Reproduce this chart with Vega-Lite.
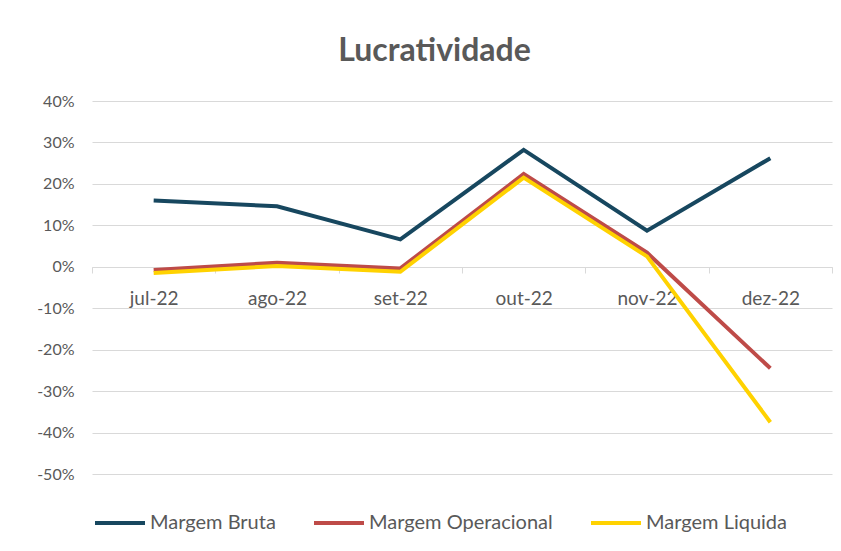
{
  "$schema": "https://vega.github.io/schema/vega-lite/v6.json",
  "autosize": {"type": "none"},
  "width": 740,
  "height": 373,
  "padding": {"left": 92, "top": 101, "right": 9, "bottom": 77},
  "background": "white",
  "title": {
    "text": "Lucratividade",
    "anchor": "middle",
    "frame": "bounds",
    "offset": 25,
    "fontSize": 32,
    "font": "Lato",
    "fontWeight": "bold",
    "color": "#595959"
  },
  "data": {
    "values": [
      {"mes": "jul-22", "serie": "Margem Bruta", "valor": 0.160},
      {"mes": "ago-22", "serie": "Margem Bruta", "valor": 0.146},
      {"mes": "set-22", "serie": "Margem Bruta", "valor": 0.066},
      {"mes": "out-22", "serie": "Margem Bruta", "valor": 0.282},
      {"mes": "nov-22", "serie": "Margem Bruta", "valor": 0.087},
      {"mes": "dez-22", "serie": "Margem Bruta", "valor": 0.262},
      {"mes": "jul-22", "serie": "Margem Operacional", "valor": -0.008},
      {"mes": "ago-22", "serie": "Margem Operacional", "valor": 0.010},
      {"mes": "set-22", "serie": "Margem Operacional", "valor": -0.004},
      {"mes": "out-22", "serie": "Margem Operacional", "valor": 0.224},
      {"mes": "nov-22", "serie": "Margem Operacional", "valor": 0.034},
      {"mes": "dez-22", "serie": "Margem Operacional", "valor": -0.245},
      {"mes": "jul-22", "serie": "Margem Liquida", "valor": -0.015},
      {"mes": "ago-22", "serie": "Margem Liquida", "valor": 0.002},
      {"mes": "set-22", "serie": "Margem Liquida", "valor": -0.012},
      {"mes": "out-22", "serie": "Margem Liquida", "valor": 0.215},
      {"mes": "nov-22", "serie": "Margem Liquida", "valor": 0.025},
      {"mes": "dez-22", "serie": "Margem Liquida", "valor": -0.375}
    ]
  },
  "mark": {"type": "line", "strokeWidth": 4, "strokeCap": "butt", "strokeJoin": "miter"},
  "encoding": {
    "x": {
      "field": "mes",
      "type": "ordinal",
      "sort": ["jul-22", "ago-22", "set-22", "out-22", "nov-22", "dez-22"],
      "bandPosition": 0.5,
      "scale": {"type": "band", "paddingInner": 0, "paddingOuter": 0},
      "axis": {
        "title": null,
        "offset": -207,
        "labelAngle": 0,
        "labelFont": "Lato",
        "labelFontSize": 19,
        "labelColor": "#595959",
        "labelPadding": 16,
        "domainColor": "#d9d9d9",
        "domainWidth": 1,
        "tickColor": "#d9d9d9",
        "tickSize": 6,
        "tickBand": "extent",
        "grid": false
      }
    },
    "y": {
      "field": "valor",
      "type": "quantitative",
      "scale": {"domain": [-0.5, 0.4], "nice": false, "zero": false},
      "axis": {
        "title": null,
        "values": [-0.5, -0.4, -0.3, -0.2, -0.1, 0, 0.1, 0.2, 0.3, 0.4],
        "labelExpr": "replace(format(datum.value, '.0%'), '\u2212', '-')",
        "labelFont": "Lato",
        "labelFontSize": 16,
        "labelColor": "#595959",
        "labelPadding": 18,
        "domain": false,
        "ticks": false,
        "grid": true,
        "gridColor": "#d9d9d9",
        "gridWidth": 1
      }
    },
    "color": {
      "field": "serie",
      "type": "nominal",
      "sort": ["Margem Bruta", "Margem Operacional", "Margem Liquida"],
      "scale": {
        "domain": ["Margem Bruta", "Margem Operacional", "Margem Liquida"],
        "range": ["#17475f", "#be4b48", "#ffd200"]
      },
      "legend": {
        "title": null,
        "orient": "none",
        "legendX": 1,
        "legendY": 395,
        "direction": "horizontal",
        "symbolType": "stroke",
        "symbolSize": 2500,
        "symbolStrokeWidth": 4,
        "labelFont": "Lato",
        "labelFontSize": 20,
        "labelColor": "#595959",
        "labelOffset": 3,
        "columnPadding": 30,
        "labelLimit": 300
      }
    }
  },
  "config": {"view": {"stroke": null}}
}
